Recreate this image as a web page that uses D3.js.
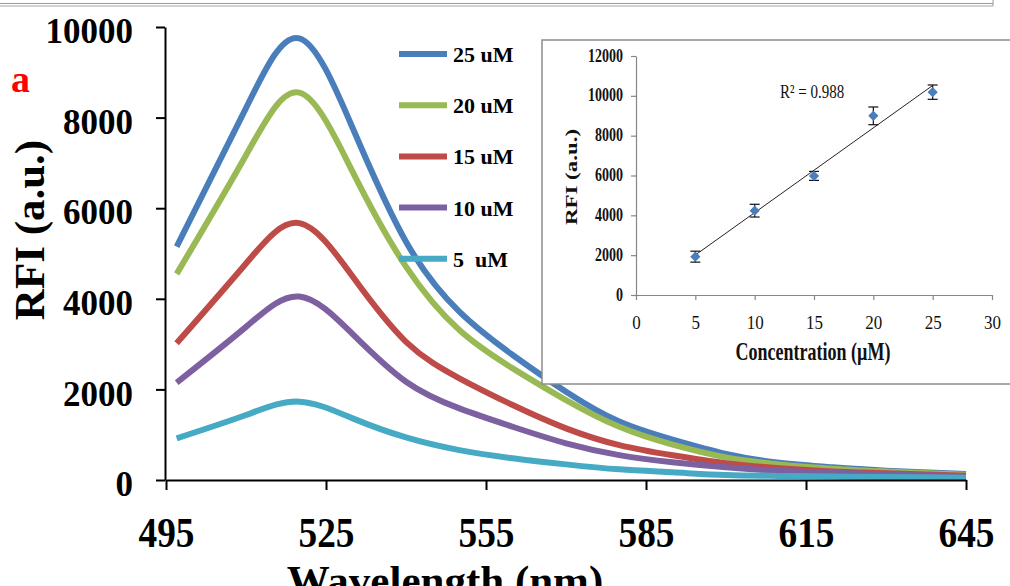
<!DOCTYPE html>
<html>
<head>
<meta charset="utf-8">
<script src="https://cdn.jsdelivr.net/npm/d3@7"></script>
<style>
  html, body { margin: 0; padding: 0; background: #fff; }
  svg { display: block; font-family: "Liberation Serif", "Times New Roman", serif; }
</style>
</head>
<body>
<svg id="chart" width="1010" height="586"></svg>
<script>
// spectra
const wavelengths = [497, 510, 520, 530, 540, 550, 560, 570, 580, 590, 600, 610, 620, 630, 645];
const rfi25 = [5150, 8210, 9750, 7770, 5260, 3715, 2760, 1950, 1290, 890, 575, 380, 280, 205, 130];
const rfi20 = [4550, 7170, 8550, 6800, 4710, 3310, 2465, 1765, 1175, 780, 500, 345, 250, 185, 115];
const rfi15 = [3020, 4780, 5670, 4490, 3050, 2245, 1655, 1140, 770, 545, 370, 260, 190, 150, 95];
const rfi10 = [2150, 3380, 4050, 3220, 2170, 1580, 1175, 810, 550, 390, 280, 205, 160, 125, 80];
const rfi5  = [920, 1435, 1730, 1360, 940, 660, 480, 345, 235, 170, 110, 90, 75, 65, 50];
const seriesNames = ["25 uM", "20 uM", "15 uM", "10 uM", "5  uM"];
const seriesColors = ["#4a7ebb", "#98b954", "#be4b48", "#7d60a0", "#46aac5"];
const xTicks = [495, 525, 555, 585, 615, 645];
const yTicks = [0, 2000, 4000, 6000, 8000, 10000];

// inset calibration
const conc = [5, 10, 15, 20, 25];
const concRfi = [1925, 4235, 5980, 8995, 10185];
const concErr = [275, 320, 225, 445, 360];
const insetXTicks = [0, 5, 10, 15, 20, 25, 30];
const insetYTicks = [0, 2000, 4000, 6000, 8000, 10000, 12000];

const FONT = '"Liberation Serif", "Times New Roman", serif';
const svg = d3.select("#chart");

// grey frame lines at the top edge
svg.append("line").attr("x1", 0).attr("x2", 993).attr("y1", 3.5).attr("y2", 3.5)
  .attr("stroke", "#9a9a9a").attr("stroke-width", 1);
svg.append("line").attr("x1", 0).attr("x2", 993).attr("y1", 6).attr("y2", 6)
  .attr("stroke", "#a8a8a8").attr("stroke-width", 1.2);
svg.append("line").attr("x1", 993).attr("x2", 993).attr("y1", 0).attr("y2", 6)
  .attr("stroke", "#9a9a9a").attr("stroke-width", 1);

const x = d3.scaleLinear().domain([495, 645]).range([166, 966]);
const y = d3.scaleLinear().domain([0, 10000]).range([480, 27]);

// curves
const series = [rfi25, rfi20, rfi15, rfi10, rfi5];
const line = d3.line()
  .x((d, i) => x(wavelengths[i]))
  .y(d => y(d))
  .curve(d3.curveNatural);

svg.append("g").selectAll("path").data(series).join("path")
  .attr("d", d => line(d))
  .attr("fill", "none")
  .attr("stroke", (d, i) => seriesColors[i])
  .attr("stroke-width", 6)
  .attr("stroke-linejoin", "round");

// axes
const yAxis = svg.append("g").attr("transform", "translate(165,0)")
  .call(d3.axisLeft(y).tickValues(yTicks).tickFormat(d3.format("d"))
    .tickSize(9).tickSizeOuter(0).tickPadding(23));
const xAxis = svg.append("g").attr("transform", "translate(0,480)")
  .call(d3.axisBottom(x).tickValues(xTicks).tickFormat(d3.format("d"))
    .tickSize(10).tickSizeOuter(0));

[yAxis, xAxis].forEach(a => {
  a.attr("font-family", FONT);
  a.select(".domain").attr("stroke", "#000").attr("stroke-width", 2);
  a.selectAll(".tick line").attr("stroke", "#000").attr("stroke-width", 2);
});
yAxis.selectAll(".tick text")
  .attr("font-size", 35).attr("font-weight", "bold").attr("fill", "#000")
  .attr("dy", "0.45em");
xAxis.selectAll(".tick text")
  .attr("font-size", 42).attr("font-weight", "bold").attr("fill", "#000")
  .attr("y", 67).attr("dy", 0)
  .attr("textLength", 56).attr("lengthAdjust", "spacingAndGlyphs");

svg.append("text").attr("transform", "translate(44,230) rotate(-90)")
  .attr("text-anchor", "middle").attr("font-size", 43).attr("font-weight", "bold")
  .text("RFI (a.u.)");
svg.append("text").attr("x", 445).attr("y", 595)
  .attr("text-anchor", "middle").attr("font-size", 43).attr("font-weight", "bold")
  .text("Wavelength (nm)");
svg.append("text").attr("x", 11).attr("y", 92)
  .attr("font-size", 38).attr("font-weight", "bold").attr("fill", "#ff0000")
  .text("a");

// legend
const legend = svg.append("g").selectAll("g").data(seriesNames).join("g")
  .attr("transform", (d, i) => `translate(399,${54 + i * 51.2})`);
legend.append("line").attr("x1", 0).attr("x2", 48)
  .attr("stroke", (d, i) => seriesColors[i]).attr("stroke-width", 6);
legend.append("text").attr("x", 54).attr("y", 8)
  .attr("font-size", 22).attr("font-weight", "bold")
  .style("white-space", "pre")
  .text(d => d);

// inset
const inset = svg.append("g");
inset.append("rect").attr("x", 542).attr("y", 40).attr("width", 490).attr("height", 344)
  .attr("fill", "#fff").attr("stroke", "#8c8c8c").attr("stroke-width", 1.5);

const ix = d3.scaleLinear().domain([0, 30]).range([636, 992]);
const iy = d3.scaleLinear().domain([0, 12000]).range([295, 56]);

const iyAxis = inset.append("g").attr("transform", "translate(636,0)")
  .call(d3.axisLeft(iy).tickValues(insetYTicks).tickFormat(d3.format("d"))
    .tickSize(5).tickSizeOuter(0));
const ixAxis = inset.append("g").attr("transform", "translate(0,295)")
  .call(d3.axisBottom(ix).tickValues(insetXTicks).tickFormat(d3.format("d"))
    .tickSize(5).tickSizeOuter(0));
[iyAxis, ixAxis].forEach(a => {
  a.attr("font-family", FONT);
  a.select(".domain").attr("stroke", "#868686").attr("stroke-width", 1.2);
  a.selectAll(".tick line").attr("stroke", "#868686").attr("stroke-width", 1.2);
});
iyAxis.selectAll(".tick text")
  .attr("font-size", 14).attr("font-weight", "bold").attr("fill", "#111")
  .attr("x", 0).attr("dy", 0)
  .attr("transform", "translate(-13,5) scale(1,1.35)");
ixAxis.selectAll(".tick text")
  .attr("font-size", 17).attr("fill", "#111")
  .attr("y", 0).attr("dy", 0)
  .attr("transform", "translate(0,34) scale(1,1.15)");

inset.append("text").attr("transform", "translate(577,177) rotate(-90) scale(1.35,1)")
  .attr("text-anchor", "middle").attr("font-size", 17).attr("font-weight", "bold")
  .attr("fill", "#111").text("RFI (a.u.)");
inset.append("text").attr("transform", "translate(813,360) scale(1,1.35)")
  .attr("text-anchor", "middle").attr("font-size", 18).attr("font-weight", "bold")
  .attr("fill", "#111").text("Concentration (\u00b5M)");

// linear fit through the calibration points
const mx = d3.mean(conc), my = d3.mean(concRfi);
const slope = d3.sum(conc, (c, i) => (c - mx) * (concRfi[i] - my)) / d3.sum(conc, c => (c - mx) ** 2);
const icpt = my - slope * mx;
const xExt = d3.extent(conc);
inset.append("line")
  .attr("x1", ix(xExt[0])).attr("y1", iy(icpt + slope * xExt[0]))
  .attr("x2", ix(xExt[1])).attr("y2", iy(icpt + slope * xExt[1]))
  .attr("stroke", "#222").attr("stroke-width", 1);

inset.append("text").attr("transform", "translate(780,98) scale(1,1.3)")
  .attr("font-size", 15).attr("fill", "#111").text("R\u00b2 = 0.988");

const pts = inset.append("g").selectAll("g").data(conc).join("g")
  .attr("transform", (d, i) => `translate(${ix(d)},0)`);
pts.append("line")
  .attr("y1", (d, i) => iy(concRfi[i] - concErr[i]))
  .attr("y2", (d, i) => iy(concRfi[i] + concErr[i]))
  .attr("stroke", "#111").attr("stroke-width", 1.2);
pts.append("line").attr("x1", -5).attr("x2", 5)
  .attr("y1", (d, i) => iy(concRfi[i] + concErr[i]))
  .attr("y2", (d, i) => iy(concRfi[i] + concErr[i]))
  .attr("stroke", "#111").attr("stroke-width", 1.2);
pts.append("line").attr("x1", -5).attr("x2", 5)
  .attr("y1", (d, i) => iy(concRfi[i] - concErr[i]))
  .attr("y2", (d, i) => iy(concRfi[i] - concErr[i]))
  .attr("stroke", "#111").attr("stroke-width", 1.2);
pts.append("path")
  .attr("d", d3.symbol(d3.symbolSquare, 52)())
  .attr("transform", (d, i) => `translate(0,${iy(concRfi[i])}) rotate(45)`)
  .attr("fill", "#4a7ebb");
</script>
</body>
</html>
